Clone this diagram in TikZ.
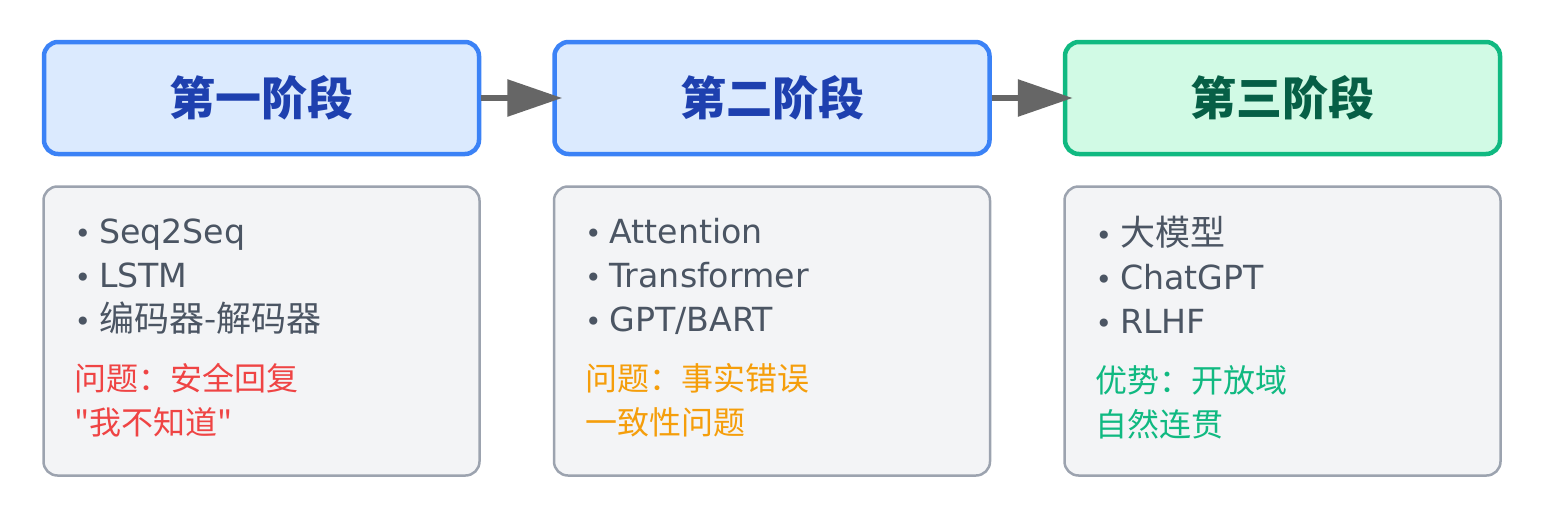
\documentclass[tikz,border=0pt]{standalone}
\usepackage{fontspec}
\usetikzlibrary{positioning,arrows.meta}
\setmainfont{DejaVu Sans}
\newfontfamily\cjk{Noto Sans CJK SC}
\definecolor{stageline}{HTML}{3B82F6}
\definecolor{stagefill}{HTML}{DBEAFE}
\definecolor{stagetext}{HTML}{1E40AF}
\definecolor{finalline}{HTML}{10B981}
\definecolor{finalfill}{HTML}{D1FAE5}
\definecolor{finaltext}{HTML}{065F46}
\definecolor{noteline}{HTML}{9CA3AF}
\definecolor{notefill}{HTML}{F3F4F6}
\definecolor{notetext}{HTML}{4B5563}
\definecolor{issuered}{HTML}{EF4444}
\definecolor{issueorange}{HTML}{F59E0B}
\definecolor{gaingreen}{HTML}{10B981}
\definecolor{flowgray}{HTML}{666666}
\newcommand\bul{{\fontsize{28}{44}\selectfont\textbullet}\hspace{8pt}}
\newcommand\cjkitem[1]{{\fontsize{35}{44}\selectfont\cjk #1}}

\begin{document}
\begin{tikzpicture}
[
    x=1pt, y=-1pt,
    stage/.style={draw=stageline, fill=stagefill, text=stagetext, line width=4.5pt,
        rounded corners=14pt, minimum width=435pt, minimum height=112pt,
        font=\fontsize{46}{46}\selectfont\cjk\bfseries},
    final/.style={stage, draw=finalline, fill=finalfill, text=finaltext},
    note/.style={draw=noteline, fill=notefill, text=notetext, line width=2.5pt,
        rounded corners=14pt, minimum height=289pt, text width=374pt, inner xsep=31pt,
        align=left, font=\fontsize{33.2}{44}\selectfont},
    flow/.style={draw=flowgray, line width=6pt, -{Triangle[length=55pt, width=36pt]}},
]
\useasboundingbox (0,0) rectangle (1546,514);

% stages
\node [stage] (stage1) at (261.5,98) {第一阶段};
\node [stage, right=71pt of stage1] (stage2) {第二阶段};
\node [final, right=71pt of stage2] (stage3) {第三阶段};

% details under each stage
\node [note, below=29pt of stage1] (note1)
{\bul Seq2Seq\\
\bul LSTM\\
\bul \cjkitem{编码器-解码器}\\[15pt]
{\fontsize{32}{44}\selectfont\color{issuered}\cjk 问题：安全回复\\"我不知道"}\par\vspace{6pt}};
\node [note, below=29pt of stage2] (note2)
{\bul Attention\\
\bul Transformer\\
\bul GPT/BART\\[15pt]
{\fontsize{32}{44}\selectfont\color{issueorange}\cjk 问题：事实错误\\一致性问题}\par\vspace{6pt}};
\node [note, below=29pt of stage3] (note3)
{\bul \cjkitem{大模型}\\
\bul ChatGPT\\
\bul RLHF\\[15pt]
{\fontsize{32}{44}\selectfont\color{gaingreen}\cjk 优势：开放域\\自然连贯}\par\vspace{6pt}};

\draw [flow] (stage1.east) -- ([xshift=10pt]stage2.west);
\draw [flow] (stage2.east) -- ([xshift=10pt]stage3.west);
\end{tikzpicture}
\end{document}
